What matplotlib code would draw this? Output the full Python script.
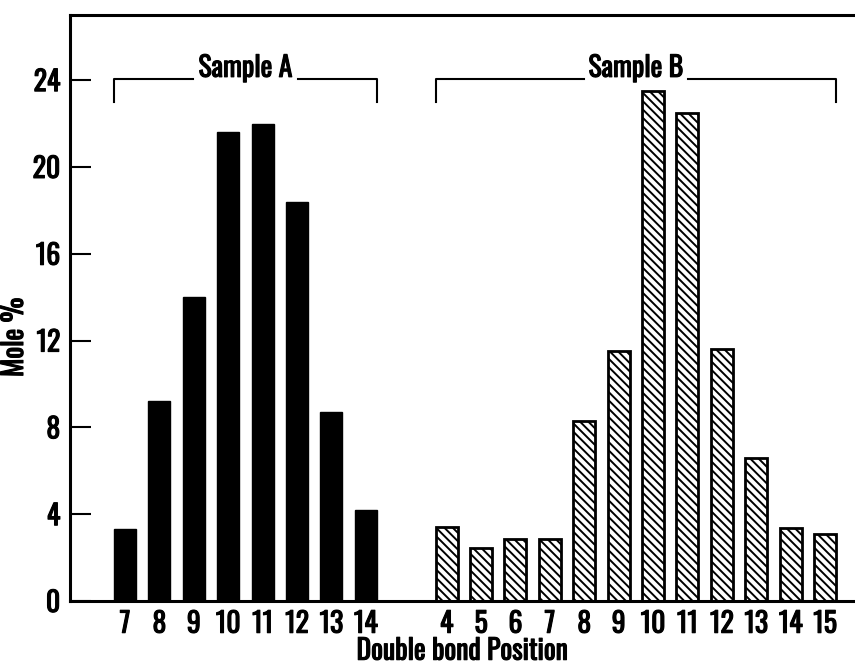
import numpy as np
import matplotlib
matplotlib.use("Agg")
from matplotlib import pyplot as plt
from matplotlib import patheffects as pe

plt.rcParams['font.family'] = ['Oswald', 'Roboto Condensed', 'DejaVu Sans']
plt.rcParams['hatch.linewidth'] = 1.4

pos_a = [7, 8, 9, 10, 11, 12, 13, 14]
mole_a = [3.3, 9.2, 14.0, 21.6, 22.0, 18.4, 8.7, 4.2]

pos_b = [4, 5, 6, 7, 8, 9, 10, 11, 12, 13, 14, 15]
mole_b = [3.4, 2.45, 2.85, 2.85, 8.3, 11.5, 23.5, 22.5, 11.6, 6.6, 3.35, 3.1]

yticks = [0, 4, 8, 12, 16, 20, 24]

fs = 20
width = 0.64
gap = 2.35
# Oswald only ships a regular weight here, so thicken it a little with a stroke
heavy = [pe.withStroke(linewidth=0.8, foreground='black')]

xa = np.arange(len(pos_a))
xb = np.arange(len(pos_b)) + xa[-1] + gap

fig = plt.figure(figsize=(8.55, 6.69), dpi=100)
ax = fig.add_axes([70/855, 68/669, 1 - 70/855, (601 - 15)/669])

ax.bar(xa, mole_a, width, color='black', edgecolor='black')
ax.bar(xb, mole_b, width, color='white', edgecolor='black', linewidth=2, hatch='\\\\\\\\')

ax.set_xlim(xa[0] - 1.6, xb[-1] + 0.87)
ax.set_ylim(0, 27)

ax.set_xticks(list(xa) + list(xb))
ax.set_xticklabels([str(p) for p in pos_a + pos_b], fontsize=fs, path_effects=heavy)
ax.tick_params(axis='x', length=0, pad=7)
ax.set_yticks(yticks)
ax.set_yticklabels([str(v) for v in yticks], fontsize=fs, path_effects=heavy)
ax.tick_params(axis='y', direction='in', length=15, width=1.5, pad=7)

ax.spines['right'].set_visible(False)
for s in ['left', 'top', 'bottom']:
    ax.spines[s].set_linewidth(2.2)

ax.set_ylabel('Mole %', fontsize=fs, path_effects=heavy)
ax.yaxis.set_label_coords(-42/785, 0.45)
ax.set_xlabel('Double bond Position', fontsize=fs, path_effects=heavy, labelpad=0)

# sample brackets
def bracket(x0, x1, label):
    mid = (x0 + x1) / 2
    half = 1.52
    top, low = 24.05, 23.0
    ax.plot([x0, x0, mid - half], [low, top, top], color='black', lw=1.5, clip_on=False)
    ax.plot([mid + half, x1, x1], [top, top, low], color='black', lw=1.5, clip_on=False)
    ax.text(mid, top + 0.1, label, ha='center', va='baseline', fontsize=fs, path_effects=heavy)

bracket(xa[0] - width/2, xa[-1] + width/2, 'Sample A')
bracket(xb[0] - width/2, xb[-1] + width/2, 'Sample B')

fig.savefig('out.png', dpi=100)
